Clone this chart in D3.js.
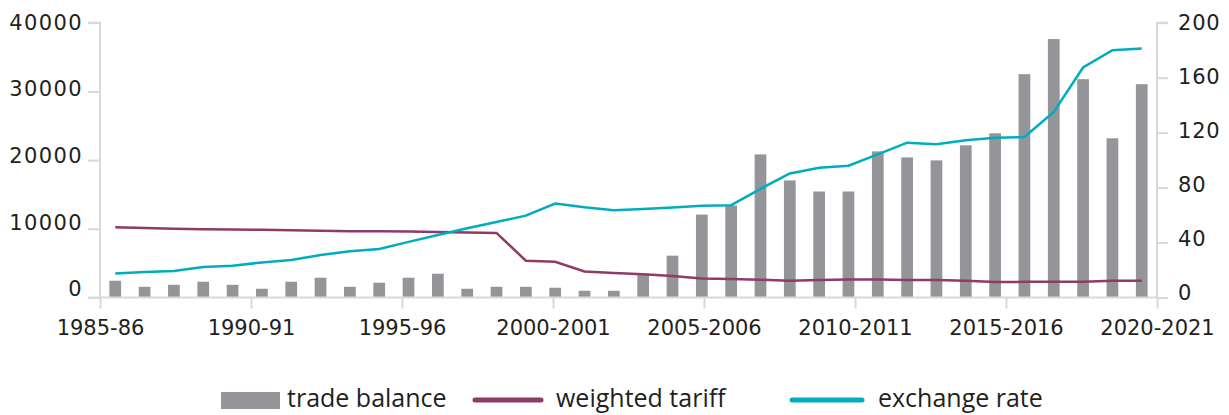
<!DOCTYPE html>
<html>
<head>
<meta charset="utf-8">
<script src="https://cdn.jsdelivr.net/npm/d3@7"></script>
<style>
  body { margin: 0; background: #fff; }
  svg text { fill: #231f20; }
</style>
</head>
<body>
<div id="chart"></div>
<script>
// data
var years = ['1985-86','1986-87','1987-88','1988-89','1989-90','1990-91','1991-92','1992-93',
	'1993-94','1994-95','1995-96','1996-97','1997-98','1998-99','1999-2000','2000-01',
	'2001-02','2002-03','2003-04','2004-05','2005-06','2006-07','2007-08','2008-09',
	'2009-10','2010-11','2011-12','2012-13','2013-14','2014-15','2015-16','2016-17',
	'2017-18','2018-19','2019-20','2020-21'];

var tradeBalance = [2440, 1560, 1850, 2290, 1850, 1270, 2290, 2880, 1560, 2150, 2880, 3460,
	1270, 1560, 1560, 1420, 980, 980, 3270, 6090, 12070, 13390, 20830, 17040,
	15430, 15430, 21270, 20390, 19960, 22150, 23900, 32510, 37620, 31780, 23170, 31050];

var weightedTariff = [51.1, 50.6, 50.1, 49.7, 49.4, 49.3, 48.9, 48.5, 48.3, 48.2, 48.1, 47.7,
	47.3, 47.0, 26.8, 26.0, 19.0, 17.8, 17.0, 15.6, 13.9, 13.4, 12.9, 12.2,
	12.7, 13.1, 13.1, 12.7, 12.7, 12.2, 11.2, 11.4, 11.4, 11.4, 12.2, 12.2];

var exchangeRate = [17.5, 18.5, 19.3, 22.2, 23.1, 25.5, 27.3, 30.9, 33.6, 35.3, 40.5, 45.5,
	50.4, 55.0, 59.6, 68.4, 65.7, 63.5, 64.5, 65.5, 66.7, 67.2, 79.1, 90.3,
	94.5, 95.9, 104.2, 112.7, 111.5, 114.4, 116.3, 116.8, 135.0, 167.4, 180.0, 181.3];

var xTickYears = [1985, 1990, 1995, 2000, 2005, 2010, 2015, 2020];
var xTickLabels = ['1985-86', '1990-91', '1995-96', '2000-2001', '2005-2006', '2010-2011', '2015-2016', '2020-2021'];
var leftTicks = [0, 10000, 20000, 30000, 40000];
var rightTicks = [0, 40, 80, 120, 160, 200];

// build canvas
var width = 1229,
	height = 415;

var svg = d3.select('#chart')
	.append('svg')
	.attr('width', width)
	.attr('height', height);

var plotLeft = 100, plotRight = 1157, plotTop = 22.7, plotBottom = 297.5;

// scales
var x = d3.scaleBand()
	.domain(years)
	.range([plotLeft, plotRight])
	.paddingInner(0.6)
	.paddingOuter(0.32);

var xYear = d3.scaleLinear()
	.domain([1985, 2020])
	.range([plotLeft, plotRight]);

var yLeft = d3.scaleLinear().domain([0, 40000]).range([plotBottom, plotTop]);
var yRight = d3.scaleLinear().domain([0, 200]).range([plotBottom, plotTop]);

// tick labels in the source sit on a slightly tighter spacing than the ticks
var yLeftLabel = d3.scaleLinear().domain([0, 40000]).range([289, 22.5]);
var yRightLabel = d3.scaleLinear().domain([0, 200]).range([292.5, 22.8]);

var axisColor = '#d9d9d9';
var tickFont = '"DejaVu Sans", sans-serif';

// bars
svg.append('g')
	.selectAll('rect')
	.data(tradeBalance).enter()
	.append('rect')
	.attr('x', (d, i) => x(years[i]))
	.attr('width', x.bandwidth())
	.attr('y', d => yLeft(d))
	.attr('height', d => plotBottom - yLeft(d))
	.attr('fill', '#939598');

// left axis
var gl = svg.append('g')
	.attr('transform', 'translate(' + plotLeft + ',0)')
	.call(d3.axisLeft(yLeft).tickValues(leftTicks).tickSize(12).tickPadding(5).tickFormat(d3.format('d')));

// right axis
var gr = svg.append('g')
	.attr('transform', 'translate(' + plotRight + ',0)')
	.call(d3.axisRight(yRight).tickValues(rightTicks).tickSize(11).tickPadding(10));

// bottom axis
var gb = svg.append('g')
	.attr('transform', 'translate(0,' + plotBottom + ')')
	.call(d3.axisBottom(xYear).tickValues(xTickYears).tickSize(11).tickPadding(12)
		.tickFormat((d, i) => xTickLabels[i]));

[gl, gr, gb].forEach(function(g) {
	g.select('.domain').attr('stroke', axisColor).attr('stroke-width', 2);
	g.selectAll('.tick line').attr('stroke', axisColor).attr('stroke-width', 2);
	g.selectAll('.tick text')
		.attr('fill', '#231f20')
		.style('font-family', tickFont)
		.style('font-size', '21px');
});
gl.selectAll('.tick text')
	.style('letter-spacing', '1.4px')
	.attr('transform', d => 'translate(0,' + (yLeftLabel(d) - yLeft(d)) + ')');
gr.selectAll('.tick text')
	.style('letter-spacing', '0.8px')
	.attr('transform', d => 'translate(0,' + (yRightLabel(d) - yRight(d)) + ')');

gl.select('.domain').attr('d', 'M0,' + plotBottom + 'V' + plotTop + 'H-12');
gr.select('.domain').attr('d', 'M0,' + plotBottom + 'V' + plotTop + 'H11');
gb.select('.domain').attr('d', 'M' + (plotLeft - 12) + ',0H' + plotRight);

// lines
var line = function(scale) {
	return d3.line()
		.x((d, i) => x(years[i]) + x.bandwidth() / 2)
		.y(d => scale(d));
};

svg.append('path')
	.datum(weightedTariff)
	.attr('fill', 'none')
	.attr('stroke', '#8e3b66')
	.attr('stroke-width', 2.5)
	.attr('d', line(yRight));

svg.append('path')
	.datum(exchangeRate)
	.attr('fill', 'none')
	.attr('stroke', '#00adbe')
	.attr('stroke-width', 2.5)
	.attr('d', line(yRight));

// legend
var legend = svg.append('g').style('font-family', '"Open Sans", sans-serif').style('font-size', '25px');

legend.append('rect')
	.attr('x', 221).attr('y', 392).attr('width', 59).attr('height', 17)
	.attr('fill', '#939598');
legend.append('text').attr('x', 287).attr('y', 407).text('trade balance');

legend.append('line')
	.attr('x1', 475).attr('x2', 541).attr('y1', 400).attr('y2', 400)
	.attr('stroke', '#8e3b66').attr('stroke-width', 5).attr('stroke-linecap', 'round');
legend.append('text').attr('x', 556).attr('y', 407).text('weighted tariff');

legend.append('line')
	.attr('x1', 792).attr('x2', 862).attr('y1', 400).attr('y2', 400)
	.attr('stroke', '#00adbe').attr('stroke-width', 5).attr('stroke-linecap', 'round');
legend.append('text').attr('x', 878).attr('y', 407).text('exchange rate');
</script>
</body>
</html>
